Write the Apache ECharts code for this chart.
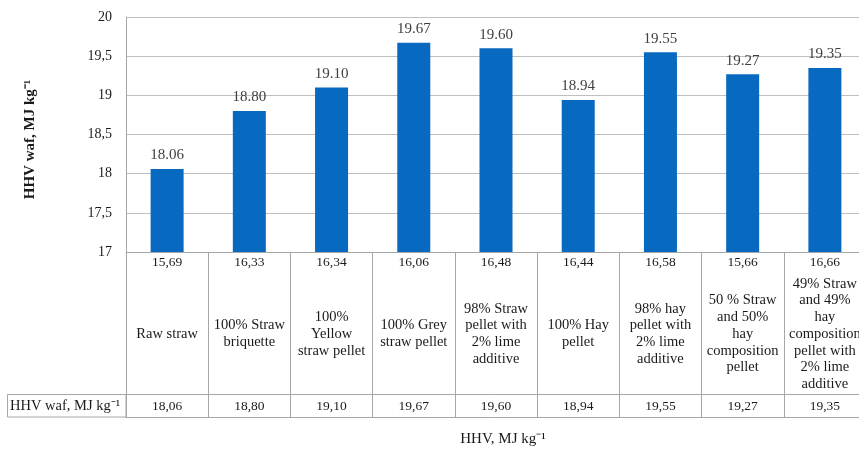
<!DOCTYPE html>
<html>
<head>
<meta charset="utf-8">
<script src="https://cdn.jsdelivr.net/npm/echarts@6/dist/echarts.min.js"></script>
<style>
  html, body { margin: 0; padding: 0; background: #fff; }
  #chart { width: 859px; height: 449px; }
</style>
</head>
<body>
<div id="chart"></div>
<script>
// Sample names, as wrapped in the table cells
const categories = [
  'Raw straw',
  '100% Straw\nbriquette',
  '100%\nYellow\nstraw pellet',
  '100% Grey\nstraw pellet',
  '98% Straw\npellet with\n2% lime\nadditive',
  '100% Hay\npellet',
  '98% hay\npellet with\n2% lime\nadditive',
  '50 % Straw\nand 50%\nhay\ncomposition\npellet',
  '49% Straw\nand 49%\nhay\ncomposition\npellet with\n2% lime\nadditive'
];
// Higher heating value, water and ash free (MJ/kg) – bar heights
const hhvWaf = [18.06, 18.80, 19.10, 19.67, 19.60, 18.94, 19.55, 19.27, 19.35];
// Higher heating value as received (MJ/kg) – shown in the first table row
const hhv = [15.69, 16.33, 16.34, 16.06, 16.48, 16.44, 16.58, 15.66, 16.66];
const yTicks = { min: 17, max: 20, step: 0.5 };

const FONT = '"Liberation Serif", "Times New Roman", serif';
const GRID_LINE = '#BFBFBF';
const TABLE_LINE = '#A6A6A6';
const TEXT = '#1a1a1a';
const comma = v => v.toFixed(2).replace('.', ',');

const chart = echarts.init(document.getElementById('chart'), null, { renderer: 'canvas' });

const hiddenLabel = { show: false };
chart.setOption({
  animation: false,
  textStyle: { fontFamily: FONT },
  grid: {
    left: 126, top: 17, right: -7, bottom: 197,
    containLabel: false, outerBoundsMode: 'none'
  },
  yAxis: {
    type: 'value',
    min: yTicks.min, max: yTicks.max, interval: yTicks.step,
    name: 'HHV waf, MJ kg\u207B\u00B9',
    nameLocation: 'middle',
    nameGap: 88,
    nameTextStyle: { fontFamily: FONT, fontSize: 15, fontWeight: 'bold', color: TEXT,
                     padding: [0, 10, 0, 0] },
    axisLine: { show: true, lineStyle: { color: TABLE_LINE, width: 1 } },
    axisTick: { show: false },
    splitLine: { show: true, lineStyle: { color: GRID_LINE, width: 1 } },
    axisLabel: {
      margin: 14, fontFamily: FONT, fontSize: 14, color: TEXT,
      formatter: v => String(v).replace('.', ',')
    }
  },
  xAxis: [
    {
      // first table row: HHV values, plus the vertical cell borders
      type: 'category', data: categories, position: 'bottom', gridIndex: 0,
      axisLine: { show: true, lineStyle: { color: TABLE_LINE, width: 1 } },
      axisTick: { show: true, length: 165, alignWithLabel: false, interval: 0,
                  lineStyle: { color: TABLE_LINE, width: 1 } },
      axisLabel: {
        interval: 0, margin: 10, verticalAlign: 'middle',
        fontFamily: FONT, fontSize: 13.5, color: TEXT,
        formatter: (v, i) => comma(hhv[i])
      }
    },
    {
      // sample names, vertically centred in their cells
      type: 'category', data: categories, position: 'bottom', offset: 0,
      axisLine: { show: false }, axisTick: { show: false },
      axisLabel: {
        interval: 0, margin: 82, verticalAlign: 'middle',
        fontFamily: FONT, fontSize: 14.5, lineHeight: 16.7, color: TEXT, align: 'center'
      }
    },
    {
      // data-table row with the HHV waf values
      type: 'category', data: categories, position: 'bottom', offset: 142,
      axisLine: { show: true, lineStyle: { color: TABLE_LINE, width: 1 } },
      axisTick: { show: false },
      axisLabel: {
        interval: 0, margin: 12, verticalAlign: 'middle',
        fontFamily: FONT, fontSize: 13.5, color: TEXT,
        formatter: (v, i) => comma(hhvWaf[i])
      }
    },
    {
      // bottom border of the data table, and the axis title
      type: 'category', data: categories, position: 'bottom', offset: 165,
      axisLine: { show: true, lineStyle: { color: TABLE_LINE, width: 1 } },
      axisTick: { show: false },
      axisLabel: hiddenLabel,
      name: 'HHV, MJ kg\u207B\u00B9',
      nameLocation: 'middle',
      nameGap: 15,
      nameTextStyle: { fontFamily: FONT, fontSize: 15, color: TEXT, padding: [0, 0, 0, 14] }
    }
  ],
  series: [{
    type: 'bar',
    xAxisIndex: 0,
    data: hhvWaf,
    barWidth: 33,
    itemStyle: { color: '#0769BF' },
    label: {
      show: true, position: 'top', distance: 6,
      fontFamily: FONT, fontSize: 15, color: '#404040',
      formatter: p => p.value.toFixed(2)
    }
  }],
  graphic: [
    {
      type: 'rect',
      shape: { x: 7.5, y: 394.5, width: 118.5, height: 22.5 },
      style: { fill: 'none', stroke: TABLE_LINE, lineWidth: 1 }
    },
    {
      type: 'text',
      x: 10, y: 406,
      style: {
        text: 'HHV waf, MJ kg\u207B\u00B9',
        font: '14.5px ' + FONT,
        fill: TEXT,
        verticalAlign: 'middle'
      }
    }
  ]
});
</script>
</body>
</html>
